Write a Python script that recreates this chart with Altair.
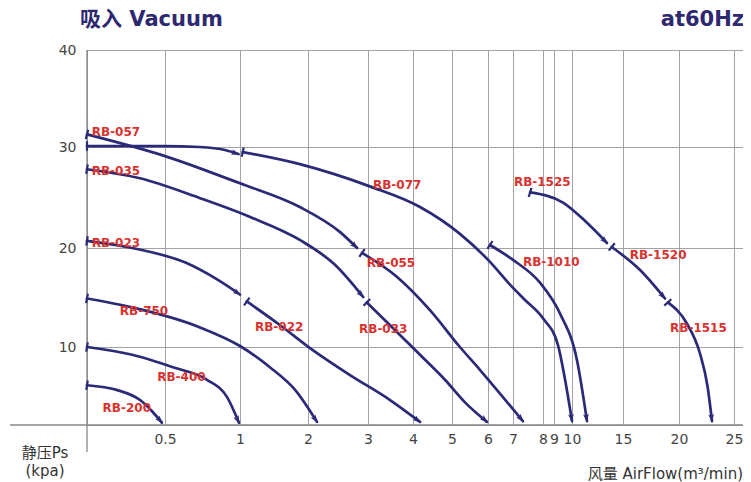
import altair as alt
import pandas as pd
import numpy as np

# ---- axis layout of the original (non-uniform, piecewise scales) ----
x_ticks = [0.5, 1, 2, 3, 4, 5, 6, 7, 8, 9, 10, 15, 20, 25]
y_ticks = [10, 20, 30, 40]
x_dom = [0, 0.5, 1, 2, 3, 4, 5, 6, 7, 8, 9, 10, 15, 20, 25, 25.8]
x_rng = [0, 78, 153, 221, 281, 326, 365, 401, 426, 456, 467, 485, 536, 592, 647, 656]
y_dom = [0, 10, 20, 30, 40]
y_rng = [375, 297, 198, 97, 0]

# ---- curve data (airflow m3/min, pressure kPa) ----
rb200_x = [0, 0.19, 0.34, 0.42, 0.48]
rb200_y = [5.1, 4.5, 3.2, 1.7, 0.3]
rb400_x = [0, 0.29, 0.553, 0.78, 0.913, 0.993]
rb400_y = [10.0, 9.0, 7.4, 5.8, 3.6, 0.3]
rb750_x = [0, 0.29, 0.73, 1.0, 1.44, 1.81, 2.15]
rb750_y = [14.9, 14.0, 12.0, 10.1, 7.4, 4.5, 0.4]
rb023_x = [0, 0.29, 0.64, 0.85, 1.0]
rb023_y = [20.7, 20.0, 18.5, 16.8, 15.3]
rb022_x = [1.1, 1.59, 2.08, 2.7, 3.49, 4.18]
rb022_y = [14.6, 12.2, 9.6, 6.4, 3.2, 0.4]
rb035_x = [0, 0.34, 0.73, 1.15, 1.88, 2.45, 2.92]
rb035_y = [27.8, 26.9, 24.95, 23.07, 20.8, 18.3, 15.05]
rb033_x = [2.98, 3.49, 4.18, 4.82, 5.36, 5.97]
rb033_y = [14.5, 12.2, 9.0, 5.8, 2.9, 0.4]
rb057_x = [0, 0.5, 1.0, 1.88, 2.53, 2.82]
rb057_y = [31.3, 29.1, 26.4, 24.06, 21.6, 20.0]
rb055_x = [2.9, 3.64, 4.44, 5.22, 5.78, 7.33]
rb055_y = [19.5, 17.1, 13.7, 10.0, 7.05, 0.5]
top30_x = [0, 0.5, 0.73, 0.9, 0.99]
top30_y = [30.1, 30.1, 30.0, 29.7, 29.3]
rb077_x = [1.04, 1.88, 3.04, 4.18, 5.22, 6.08, 6.88, 7.4, 8.0, 9.22, 9.67, 10.0]
rb077_y = [29.5, 28.3, 26.1, 24.06, 21.4, 18.6, 16.3, 14.75, 12.9, 10.2, 5.1, 0.5]
rb1010_x = [6.08, 7.0, 7.9, 9.33, 10.49, 11.47]
rb1010_y = [20.3, 18.8, 16.5, 13.4, 8.3, 0.5]
rb1525_x = [7.57, 9.5, 11.47, 13.43]
rb1525_y = [25.5, 24.5, 22.5, 20.5]
rb1520_x = [13.9, 16.5, 18.75]
rb1520_y = [20.1, 17.8, 14.9]
rb1515_x = [19.0, 20.7, 21.9, 22.6, 23.0]
rb1515_y = [14.5, 12.4, 9.2, 4.9, 0.5]

segments = [
    ("RB-200", rb200_x, rb200_y), ("RB-400", rb400_x, rb400_y),
    ("RB-750", rb750_x, rb750_y), ("RB-023", rb023_x, rb023_y),
    ("RB-022", rb022_x, rb022_y), ("RB-035", rb035_x, rb035_y),
    ("RB-033", rb033_x, rb033_y), ("RB-057", rb057_x, rb057_y),
    ("RB-055", rb055_x, rb055_y), ("top30", top30_x, top30_y),
    ("RB-077", rb077_x, rb077_y), ("RB-1010", rb1010_x, rb1010_y),
    ("RB-1525", rb1525_x, rb1525_y), ("RB-1520", rb1520_x, rb1520_y),
    ("RB-1515", rb1515_x, rb1515_y),
]

# ---- label texts and anchor points (data units) ----
lab_names = ["RB-057", "RB-035", "RB-023", "RB-750", "RB-400", "RB-200", "RB-022",
             "RB-033", "RB-055", "RB-077", "RB-1525", "RB-1010", "RB-1520", "RB-1515"]
lab_x = [0.03, 0.03, 0.03, 0.21, 0.45, 0.10, 1.22, 2.85, 2.98, 3.11, 7.03, 7.33, 15.6, 19.2]
lab_y = [31.5, 27.6, 20.5, 13.6, 6.15, 2.2, 12.0, 11.8, 18.5, 26.2, 26.5, 18.6, 19.3, 11.9]

NAVY = "#2b2a78"
RED = "#d8332f"
W, H = 656, 375


def px(v):
    return float(np.interp(v, x_dom, x_rng))


def py(v):
    return float(np.interp(v, y_dom, y_rng))


def ang(x0, y0, x1, y1):
    dx = px(x1) - px(x0)
    dy = py(y1) - py(y0)
    return float(np.degrees(np.arctan2(dx, -dy)) % 360)


rows, starts, ends = [], [], []
for name, xs, ys in segments:
    for i, (a, b) in enumerate(zip(xs, ys)):
        rows.append({"seg": name, "x": a, "y": b, "i": i})
    starts.append({"seg": name, "x": xs[0], "y": ys[0],
                   "angle": ang(xs[0], ys[0], xs[1], ys[1])})
    ends.append({"seg": name, "x": xs[-1], "y": ys[-1],
                 "angle": ang(xs[-2], ys[-2], xs[-1], ys[-1])})

df = pd.DataFrame(rows)
df_s = pd.DataFrame(starts)
df_e = pd.DataFrame(ends)
df_l = pd.DataFrame({"name": lab_names, "x": lab_x, "y": lab_y})
one = pd.DataFrame({"a": [0]})

xs_scale = alt.Scale(domain=x_dom, range=x_rng)
ys_scale = alt.Scale(domain=y_dom, range=y_rng)
x_enc = alt.X("x:Q", scale=xs_scale,
              axis=alt.Axis(values=x_ticks, format="~g", title=None, grid=True,
                            labelPadding=7, labelFlush=False, labelOverlap=False))
y_enc = alt.Y("y:Q", scale=ys_scale,
              axis=alt.Axis(values=y_ticks, title=None, grid=True,
                            labelPadding=11, labelBaseline="middle"))

lines = alt.Chart(df).mark_line(interpolate="monotone", color=NAVY, strokeWidth=2.7,
                                strokeCap="round").encode(
    x=x_enc, y=y_enc, detail="seg:N", order="i:Q")

ticks = alt.Chart(df_s).mark_point(shape="stroke", filled=False, color=NAVY,
                                   strokeWidth=2.2, size=90, opacity=1).encode(
    x=x_enc, y=y_enc, angle=alt.Angle("angle:Q", scale=None))

arrows = alt.Chart(df_e).mark_point(shape="M0,-0.3L0.6,1.5L0,1.1L-0.6,1.5Z", filled=True,
                                    color=NAVY, size=90, opacity=1).encode(
    x=x_enc, y=y_enc, angle=alt.Angle("angle:Q", scale=None))

labels = alt.Chart(df_l).mark_text(align="left", baseline="middle", font="DejaVu Sans",
                                   fontWeight="bold", fontSize=12, color=RED).encode(
    x=x_enc, y=y_enc, text="name:N")

bottom_line = alt.Chart(one).mark_rule(color="#888", strokeWidth=1.3).encode(
    x=alt.value(-77), x2=alt.value(W), y=alt.value(H))
left_line = alt.Chart(one).mark_rule(color="#888", strokeWidth=1.3).encode(
    x=alt.value(0), y=alt.value(0), y2=alt.value(402))


def txt(text, x, y, align, size, color, bold=False):
    return alt.Chart(one).mark_text(
        align=align, baseline="middle", font="DejaVu Sans, Noto Sans CJK SC",
        fontSize=size, fontWeight="bold" if bold else "normal", color=color).encode(
        x=alt.value(x), y=alt.value(y), text=alt.value(text))


title_l = txt("吸入 Vacuum", -7, -30, "left", 21, "#2d2870", True)
title_r = txt("at60Hz", 657, -30, "right", 21, "#2d2870", True)
ylab1 = txt("静压Ps", -42, 403, "center", 15, "#333")
ylab2 = txt("(kpa)", -42, 421, "center", 15, "#333")
xlab = txt("风量 AirFlow(m³/min)", 656, 424, "right", 15, "#333")

chart = alt.layer(
    bottom_line, left_line, lines, ticks, arrows, labels,
    title_l, title_r, ylab1, ylab2, xlab
).properties(
    width=W, height=H,
    autosize=alt.AutoSizeParams(type="none"),
    padding={"left": 79, "top": 42, "right": 0, "bottom": 57},
).configure_axis(
    labelFont="DejaVu Sans", labelFontSize=14, labelColor="#444",
    gridColor="#a3a3a3", gridWidth=1, domain=False, ticks=False
).configure_view(stroke="#999")

chart.save("out.html", embed_options={"renderer": "svg", "actions": False})
